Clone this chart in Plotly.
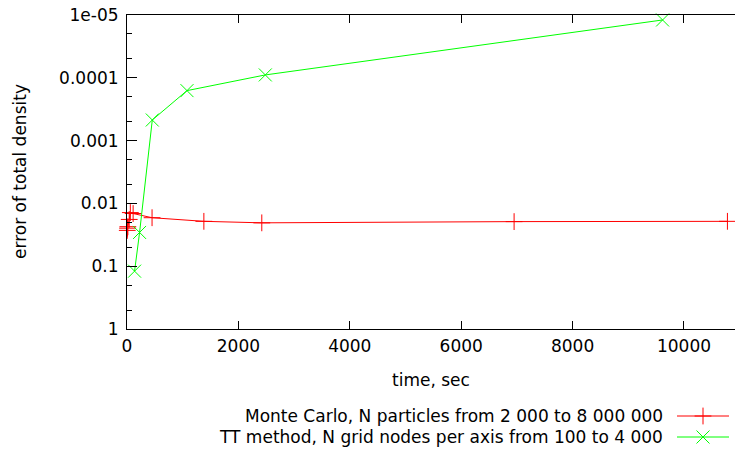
import plotly.graph_objects as go

# Monte Carlo, N particles from 2 000 to 8 000 000
mc_time = [5, 10, 15, 40, 60, 110, 450, 1380, 2420, 6950, 10780]
mc_err = [0.0269, 0.0248, 0.0235, 0.018, 0.0140, 0.0145, 0.0169, 0.0193, 0.0204, 0.0195, 0.0193]

# TT method, N grid nodes per axis from 100 to 4 000
tt_time = [136, 226, 454, 1077, 2483, 9616]
tt_err = [0.12, 0.029, 4.7e-4, 1.6e-4, 9.0e-5, 1.2e-5]

x_ticks = [0, 2000, 4000, 6000, 8000, 10000]
x_tick_labels = ["0", "2000", "4000", "6000", "8000", "10000"]
y_ticks = [1, 0.1, 0.01, 0.001, 0.0001, 1e-05]
y_tick_labels = ["1", "0.1", "0.01", "0.001", "0.0001", "1e-05"]
y_minor = [m * 10.0 ** e for e in range(-5, 0) for m in (2, 5)]

legend_names = ["Monte Carlo, N particles from 2 000 to 8 000 000",
                "TT method, N grid nodes per axis from 100 to 4 000"]

RED = "#ff0000"
GREEN = "#00ff00"
FONT = "DejaVu Sans"
FS = 17

W, H = 735, 450
L, R, T, B = 127, 0, 15, 0
plot_w = W - L - R
plot_h = H - T - B
axis_bottom_px = 329
main_dom_bottom = (H - axis_bottom_px) / plot_h


def px_x(p):
    return (p - L) / plot_w


def px_y(p):
    return (H - B - p) / plot_h


fig = go.Figure()

fig.add_trace(go.Scatter(
    x=mc_time, y=mc_err, mode="lines+markers", name=legend_names[0],
    line=dict(color=RED, width=1),
    marker=dict(symbol="cross-thin", size=12, color=RED, line=dict(color=RED, width=1)),
    showlegend=False, cliponaxis=False))
fig.add_trace(go.Scatter(
    x=tt_time, y=tt_err, mode="lines+markers", name=legend_names[1],
    line=dict(color=GREEN, width=1),
    marker=dict(symbol="x-thin", size=13, color=GREEN, line=dict(color=GREEN, width=1)),
    showlegend=False, cliponaxis=False))

# legend samples drawn on a hidden auxiliary axis (window-pixel units)
leg_y = [416, 437]
leg_colors = [RED, GREEN]
leg_symbols = ["cross-thin", "x-thin"]
leg_sizes = [12, 13]
for i in range(2):
    fig.add_trace(go.Scatter(
        x=[677, 729], y=[leg_y[i], leg_y[i]], mode="lines", xaxis="x2", yaxis="y2",
        line=dict(color=leg_colors[i], width=1), showlegend=False, hoverinfo="skip"))
    fig.add_trace(go.Scatter(
        x=[703], y=[leg_y[i]], mode="markers", xaxis="x2", yaxis="y2",
        marker=dict(symbol=leg_symbols[i], size=leg_sizes[i], color=leg_colors[i],
                    line=dict(color=leg_colors[i], width=1)),
        showlegend=False, hoverinfo="skip"))
    fig.add_annotation(x=665, y=leg_y[i], xref="x2", yref="y2", text=legend_names[i],
                       showarrow=False, xanchor="right", yanchor="middle",
                       font=dict(family=FONT, size=FS, color="black"))

# axis titles
fig.add_annotation(x=px_x(431), y=px_y(380), xref="paper", yref="paper", text="time, sec",
                   showarrow=False, xanchor="center", yanchor="middle",
                   font=dict(family=FONT, size=FS, color="black"))
fig.add_annotation(x=px_x(20), y=px_y(172), xref="paper", yref="paper",
                   text="error of total density", textangle=-90,
                   showarrow=False, xanchor="center", yanchor="middle",
                   font=dict(family=FONT, size=FS, color="black"))

fig.update_layout(
    width=W, height=H,
    margin=dict(l=L, r=R, t=T, b=B, pad=0, autoexpand=False),
    paper_bgcolor="white", plot_bgcolor="white",
    font=dict(family=FONT, size=FS, color="black"),
    hovermode=False,
    xaxis=dict(
        range=[0, 10916], tickvals=x_ticks, ticktext=x_tick_labels, ticks="inside",
        ticklen=8, tickwidth=1, tickcolor="black", showline=True, linecolor="black",
        linewidth=1, mirror="ticks", showgrid=False, zeroline=False, automargin=False,
        ticklabelstandoff=2, ticklabeloverflow="allow", domain=[0, 1], anchor="y"),
    yaxis=dict(
        type="log", range=[0, -5], tickvals=y_ticks, ticktext=y_tick_labels,
        ticks="inside", ticklen=10, tickwidth=1, tickcolor="black",
        showline=True, linecolor="black", linewidth=1, mirror=False,
        showgrid=False, zeroline=False, automargin=False, ticklabelstandoff=4,
        ticklabeloverflow="allow",
        minor=dict(tickvals=y_minor, ticks="inside", ticklen=5, tickcolor="black", showgrid=False),
        domain=[main_dom_bottom, 1], anchor="x"),
    xaxis2=dict(range=[L, W], domain=[0, 1], visible=False, anchor="y2", fixedrange=True),
    yaxis2=dict(range=[H, H - 0.2 * plot_h], domain=[0, 0.2], visible=False,
                anchor="x2", fixedrange=True),
)

fig.write_html("out.html", config={"displayModeBar": False},
               post_script="document.body.style.margin='0';document.body.style.overflow='hidden';")
